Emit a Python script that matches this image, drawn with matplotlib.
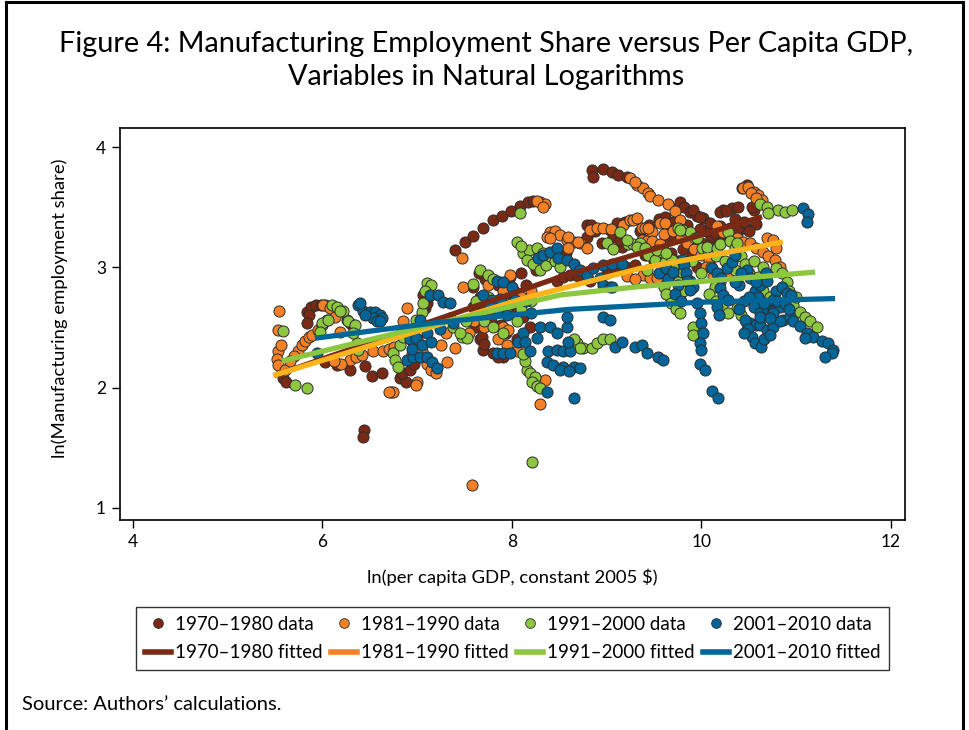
import matplotlib
matplotlib.use("Agg")
import matplotlib.pyplot as plt
from matplotlib.lines import Line2D

plt.rcParams['font.family'] = ['Lato', 'DejaVu Sans']

# ---- scatter data: ln(per capita GDP), ln(manufacturing employment share)
x_7080 = [5.57, 5.58, 5.62, 5.84, 5.88, 5.93, 5.98, 6.03, 5.86, 5.84, 6.26, 6.30,
          6.03, 6.15, 6.29, 6.45, 6.52, 6.63, 6.72, 6.82, 6.88, 6.44, 6.43,
          7.08, 7.10, 7.06, 7.11, 7.10, 6.84, 6.92, 6.97,
          7.40, 7.50, 7.59, 7.69, 7.80, 7.89, 7.99, 8.08, 8.17, 8.22,
          8.84, 8.86, 8.96, 9.06, 9.12, 9.21,
          7.59, 7.66, 7.59, 7.69, 7.80, 7.66, 7.69, 7.80, 7.90, 7.94, 8.01, 8.12,
          8.19, 7.94, 8.05, 7.68, 7.70, 7.85, 7.55, 7.62, 7.75, 7.85, 7.98, 8.10,
          8.25, 7.72, 7.65, 7.78, 7.88, 8.02, 8.15,
          8.47, 8.54, 8.61, 8.70, 8.82, 8.35, 8.42, 8.50, 8.57,
          8.79, 8.79, 8.83, 8.88, 9.03, 9.07, 9.11, 9.16, 9.19, 9.14, 8.95,
          9.00, 9.10, 9.20, 9.30,
          9.40, 9.50, 9.60, 9.70, 9.80, 9.90, 10.00, 10.10, 9.45, 9.65, 9.85, 10.05,
          10.15, 9.55, 9.75, 9.95,
          9.35, 9.45, 9.55, 9.62, 9.70, 9.78, 9.88, 9.98, 10.08, 10.18, 10.28, 10.38,
          10.48, 10.58, 9.50, 9.68, 9.85, 10.05,
          9.74, 9.77, 9.82, 9.88, 9.95, 10.02, 10.09, 10.20, 10.30, 10.39, 10.23, 10.32,
          10.39, 10.55, 10.53, 10.43, 10.48, 10.20, 10.26, 9.91, 9.98, 10.35, 10.45, 10.50]
y_7080 = [2.13, 2.08, 2.05, 2.63, 2.67, 2.69, 2.69, 2.69, 2.60, 2.54, 2.56, 2.53,
          2.21, 2.19, 2.15, 2.18, 2.10, 2.12, 1.96, 2.08, 2.05, 1.65, 1.59,
          2.66, 2.70, 2.77, 2.75, 2.79, 2.12, 2.15, 2.20,
          3.14, 3.21, 3.26, 3.33, 3.39, 3.43, 3.47, 3.51, 3.54, 3.55,
          3.81, 3.75, 3.82, 3.79, 3.77, 3.75,
          2.84, 2.75, 2.67, 2.64, 2.62, 2.40, 2.31, 2.29, 2.25, 2.79, 2.64, 2.59,
          2.50, 2.45, 2.40, 2.42, 2.36, 2.25, 2.55, 2.50, 2.70, 2.85, 2.92, 2.95,
          2.98, 2.90, 2.95, 2.55, 2.52, 2.80, 2.85,
          2.89, 2.92, 2.94, 2.93, 2.89, 3.05, 3.08, 3.10, 3.12,
          3.35, 3.25, 3.35, 3.30, 3.31, 3.25, 3.37, 3.17, 3.38, 3.23, 3.20,
          2.95, 2.98, 3.00, 3.02,
          3.10, 3.05, 3.20, 3.25, 3.15, 3.10, 3.20, 3.25, 3.22, 3.30, 3.35, 3.30,
          3.28, 3.12, 3.05, 3.00,
          3.30, 3.35, 3.40, 3.42, 3.38, 3.30, 3.25, 3.32, 3.18, 3.20, 3.25, 3.28,
          3.32, 3.36, 3.18, 3.12, 3.05, 3.10,
          3.49, 3.54, 3.50, 3.46, 3.43, 3.41, 3.37, 3.34, 3.33, 3.33, 3.48, 3.49,
          3.50, 3.48, 3.50, 3.66, 3.68, 3.46, 3.47, 3.48, 3.42, 3.40, 3.38, 3.30]

x_8190 = [5.54, 5.53, 5.53, 5.52, 5.53, 5.56, 5.60,
          5.74, 5.78, 5.82, 5.86, 5.89, 5.95, 6.00, 5.70, 5.66,
          6.01, 6.08, 6.13, 6.19, 6.05,
          6.29, 6.35, 6.42, 6.53, 6.64, 6.70, 6.76, 6.20, 6.12,
          6.74, 6.70, 7.00, 6.99,
          6.89, 6.85, 7.00, 7.05, 7.10, 7.15, 7.20, 6.95, 7.25, 7.31, 7.40, 7.30, 7.35, 7.48,
          8.30, 8.35, 8.26, 8.33, 7.47,
          9.25, 9.32, 9.38, 9.44, 9.46, 9.54, 9.65, 9.72, 9.77, 9.30,
          10.44, 10.49, 10.55, 10.60, 10.64, 10.52, 10.58,
          8.40, 8.45, 8.51, 8.58, 8.65, 8.72, 8.79, 8.37, 8.40, 8.59, 8.70, 8.59,
          8.82, 8.90, 8.96, 9.05, 9.17, 9.25, 9.28, 9.32, 9.37, 9.40, 9.46, 9.48,
          9.56, 9.62, 9.44,
          9.37, 9.42, 9.48, 9.56,
          9.60, 9.70, 9.78, 9.85, 9.92, 10.00, 10.08,
          10.16, 10.23, 10.30, 10.37, 10.44, 10.51, 10.58, 10.65, 10.70, 10.78, 10.83,
          10.69, 10.79, 10.76,
          9.38, 9.46, 9.53, 9.60, 9.70,
          7.60, 7.70, 7.80, 7.90, 8.00, 8.10, 7.75, 7.85, 7.95, 8.05, 7.55, 8.20, 7.98,
          7.91, 7.96,
          8.35, 8.30, 7.58,
          9.21, 9.30, 10.05, 10.12, 10.20, 10.28]
y_8190 = [2.64, 2.48, 2.30, 2.24, 2.19, 2.35, 2.15,
          2.30, 2.35, 2.39, 2.42, 2.44, 2.48, 2.52, 2.26, 2.22,
          2.69, 2.66, 2.59, 2.46, 2.56,
          2.23, 2.25, 2.27, 2.30, 2.30, 2.32, 2.34, 2.20, 2.22,
          1.96, 1.96, 2.05, 2.02,
          2.66, 2.55, 2.40, 2.30, 2.20, 2.15, 2.12, 2.28, 2.35, 2.21, 2.33, 2.45, 2.58, 2.84,
          3.54, 3.53, 3.55, 3.50, 3.08,
          3.74, 3.68, 3.66, 3.62, 3.59, 3.56, 3.53, 3.47, 3.39, 3.71,
          3.66, 3.67, 3.63, 3.60, 3.56, 3.62, 3.58,
          3.29, 3.30, 3.27, 3.23, 3.21, 3.20, 3.16, 3.25, 3.24, 3.25, 3.21, 3.16,
          3.31, 3.33, 3.33, 3.32, 3.35, 3.39, 3.39, 3.41, 3.33, 3.33, 3.29, 3.29,
          3.37, 3.37, 3.33,
          3.23, 3.22, 3.22, 3.19,
          3.28, 3.30, 3.25, 3.20, 3.15, 3.10, 3.05,
          3.34, 3.29, 3.27, 3.24, 3.21, 3.20, 3.16, 3.13, 3.09, 3.06, 3.00,
          3.24, 3.16, 3.23,
          2.94, 2.91, 2.91, 2.95, 3.00,
          2.55, 2.50, 2.70, 2.80, 2.70, 2.75, 2.85, 2.40, 2.35, 2.30, 2.45, 2.80, 2.94,
          2.50, 2.48,
          2.06, 1.86, 1.19,
          2.93, 2.90, 3.00, 2.92, 2.88, 2.95]

x_9100 = [5.58, 5.71, 5.84,
          6.00, 5.97, 6.06, 6.10, 6.15, 6.22, 6.27, 6.34, 6.38, 6.36, 6.32, 6.18,
          6.74, 6.77, 6.80, 6.82, 6.85, 6.89, 6.99, 7.05, 7.06, 7.10, 7.15, 7.08,
          7.47, 7.53, 7.59, 7.66, 7.75, 7.80, 7.38, 7.45, 7.52,
          8.08, 8.05,
          8.12, 8.18, 8.26, 8.16, 8.22, 8.30, 8.36, 8.40, 8.45, 8.51, 8.10, 8.33,
          7.75, 7.85, 7.95, 8.05, 7.70, 7.80, 7.90, 8.00, 8.10, 7.62, 8.20,
          8.16, 8.19, 8.24, 8.21, 8.26, 8.30, 8.14, 8.12,
          8.21,
          8.69, 8.75, 8.84, 8.90, 8.96, 9.03, 8.65, 8.72,
          9.14, 9.22, 9.28, 9.35, 9.00, 9.07,
          9.21, 9.32, 9.40, 9.44, 9.51, 9.58, 9.61, 9.69, 9.42, 9.53, 9.63,
          9.75, 9.81, 9.88, 9.93, 9.95, 10.01, 10.07, 10.06, 10.15, 10.16, 10.20,
          10.28, 10.30, 10.35, 10.38, 10.42, 10.46, 9.77,
          9.70, 9.80, 9.90, 10.00, 10.10, 10.25, 10.35, 10.50, 10.55, 10.65,
          9.67, 9.72, 9.91, 9.91, 10.14, 9.80, 9.75, 9.60, 9.63, 9.68, 9.73, 9.77,
          10.62, 10.69, 10.81, 10.88, 10.96, 10.70,
          10.79, 10.85, 10.90, 10.97, 11.04, 11.09, 11.15, 11.22, 10.60, 10.65,
          10.72, 10.92, 11.00,
          10.37, 10.42, 10.48, 10.08, 10.15, 10.22, 10.28]
y_9100 = [2.47, 2.02, 2.00,
          2.54, 2.46, 2.56, 2.69, 2.67, 2.64, 2.55, 2.52, 2.31, 2.37, 2.45, 2.64,
          2.29, 2.23, 2.17, 2.35, 2.42, 2.48, 2.56, 2.63, 2.70, 2.87, 2.85, 2.80,
          2.42, 2.41, 2.86, 2.98, 2.94, 2.90, 2.50, 2.45, 2.55,
          3.45, 3.21,
          3.12, 3.14, 3.16, 3.06, 3.03, 2.98, 3.02, 3.09, 3.05, 3.00, 3.18, 3.12,
          2.75, 2.65, 2.62, 2.55, 2.55, 2.50, 2.45, 2.70, 2.65, 2.72, 2.72,
          2.15, 2.12, 2.09, 2.05, 2.01, 2.00, 2.22, 2.28,
          1.38,
          2.37, 2.33, 2.33, 2.37, 2.40, 2.40, 2.40, 2.33,
          3.29, 3.19, 3.19, 3.20, 3.20, 3.15,
          3.23, 3.17, 3.16, 3.10, 3.06, 3.13, 3.04, 3.06, 2.98, 3.14, 3.12,
          3.33, 3.31, 3.29, 3.24, 3.24, 3.16, 3.14, 3.17, 3.09, 3.16, 3.19,
          3.29, 3.22, 3.16, 3.20, 3.09, 3.03, 3.31,
          3.00, 2.95, 3.05, 2.95, 3.00, 3.05, 2.98, 2.95, 3.05, 3.00,
          2.75, 2.72, 2.50, 2.44, 2.84, 2.80, 2.88, 2.84, 2.78, 2.70, 2.65, 2.62,
          3.53, 3.50, 3.48, 3.46, 3.48, 3.45,
          2.99, 2.95, 2.88, 2.69, 2.63, 2.59, 2.55, 2.50, 2.92, 2.80,
          2.75, 2.80, 2.75,
          2.66, 2.60, 2.53, 2.78, 2.72, 2.68, 2.62]

x_0110 = [5.94,
          6.37, 6.43, 6.50, 6.55, 6.61, 6.63, 6.53, 6.45, 6.58, 6.61, 6.40,
          6.89, 6.96, 7.03, 7.10, 7.16, 7.21, 6.92, 6.99, 7.03, 7.10, 7.24, 7.38,
          7.13, 7.22, 7.27, 7.35, 7.05, 7.15, 6.95,
          7.84, 7.91, 8.00, 7.69, 7.79, 7.89, 8.03, 7.77, 7.85, 7.95, 7.87, 8.15, 8.20,
          7.84, 7.91, 7.98, 8.06, 8.12, 8.14, 8.26, 8.30, 8.40, 8.47, 8.19, 8.38,
          8.47, 8.54, 8.61, 8.59, 8.58,
          8.37, 8.43, 8.54, 8.65, 8.72, 8.65, 8.37,
          8.27, 8.33, 8.40, 8.47, 8.49, 8.58, 8.65, 8.72, 8.79, 8.86, 8.96, 9.06,
          9.16, 8.93, 8.96, 9.03, 9.06,
          8.96, 9.03, 8.58, 8.51, 8.60,
          9.09, 9.16, 9.30, 9.37, 9.42, 9.54, 9.59,
          9.55, 9.65, 9.75, 9.72, 9.78,
          9.63, 9.70, 9.79, 9.82, 9.84, 9.88, 9.91, 9.85, 9.88, 9.95, 9.98, 10.00,
          10.02, 9.98, 10.00, 9.98, 10.04, 10.11, 10.17,
          10.11, 10.16, 10.21, 10.27, 10.32, 10.35, 10.20, 10.23, 10.28, 10.16, 10.18,
          10.48, 10.51, 10.56, 10.62, 10.69, 10.79, 10.85, 10.90, 10.95, 10.55, 10.62,
          10.69, 10.76, 10.83, 10.86, 10.93, 10.51, 10.58, 10.46, 10.49, 10.53, 10.56,
          10.63, 10.62, 10.69, 10.76, 10.83, 10.62, 10.76, 10.45, 10.60, 10.75, 10.40,
          10.40, 10.45, 10.50, 10.66, 10.72, 10.80, 10.88, 10.92, 10.66, 10.72,
          10.58, 10.68, 10.35, 10.42,
          10.97, 11.04, 11.11, 11.18, 11.27, 11.34, 11.39, 11.38, 11.30, 11.09,
          11.07, 11.12, 11.11]
y_0110 = [2.29,
          2.69, 2.64, 2.63, 2.63, 2.60, 2.58, 2.58, 2.60, 2.55, 2.55, 2.70,
          2.23, 2.25, 2.25, 2.25, 2.21, 2.16, 2.40, 2.41, 2.56, 2.45, 2.49, 2.54,
          2.77, 2.77, 2.71, 2.70, 2.35, 2.38, 2.32,
          2.89, 2.88, 2.84, 2.77, 2.73, 2.70, 2.73, 2.67, 2.65, 2.60, 2.74, 2.72, 2.62,
          2.29, 2.29, 2.29, 2.38, 2.45, 2.38, 2.41, 2.50, 2.50, 2.45, 2.30, 2.30,
          2.31, 2.30, 2.30, 2.38, 2.50,
          2.21, 2.19, 2.17, 2.17, 2.16, 1.91, 1.96,
          3.08, 3.10, 3.13, 3.16, 3.08, 3.06, 3.03, 2.98, 2.94, 2.99, 3.02, 3.03,
          3.03, 2.91, 2.85, 2.84, 2.84,
          2.59, 2.56, 2.59, 2.15, 2.14,
          2.34, 2.38, 2.34, 2.35, 2.29, 2.25, 2.23,
          2.95, 2.90, 2.85, 2.78, 2.72,
          2.99, 2.96, 3.06, 3.02, 2.95, 2.89, 2.84, 2.89, 2.81, 2.70, 2.62, 2.54,
          2.45, 2.37, 2.31, 2.20, 2.15, 1.97, 1.91,
          2.99, 2.95, 2.91, 2.99, 3.04, 3.10, 2.83, 2.77, 2.73, 2.67, 2.60,
          2.98, 2.91, 2.80, 2.85, 2.89, 2.80, 2.84, 2.79, 2.77, 2.67, 2.62,
          2.66, 2.64, 2.67, 2.56, 2.59, 2.54, 2.52, 2.56, 2.49, 2.42, 2.37,
          2.34, 2.52, 2.48, 2.50, 2.55, 2.59, 2.62, 2.72, 2.75, 2.73, 2.85,
          2.65, 2.45, 2.75, 2.70, 2.58, 2.72, 2.70, 2.65, 2.40, 2.44,
          2.88, 2.95, 2.88, 2.95,
          2.55, 2.51, 2.45, 2.42, 2.39, 2.37, 2.31, 2.29, 2.25, 2.41,
          3.49, 3.44, 3.38]

# ---- fitted curves
fx_7080 = [5.49, 8.51, 10.64]
fy_7080 = [2.10, 2.92, 3.42]
fx_8190 = [5.48, 8.16, 9.35, 10.86]
fy_8190 = [2.10, 2.75, 2.99, 3.21]
fx_9100 = [5.57, 7.03, 8.51, 9.35, 11.20]
fy_9100 = [2.22, 2.50, 2.77, 2.84, 2.96]
fx_0110 = [5.92, 7.20, 8.60, 10.00, 11.41]
fy_0110 = [2.41, 2.54, 2.65, 2.71, 2.74]

periods = ['1970\u20131980', '1981\u20131990', '1991\u20132000', '2001\u20132010']
dot_colors = ['#7a2914', '#f58025', '#8dc63f', '#00669a']
fit_colors = ['#7a2914', '#fbb41c', '#8dc63f', '#00669a']
legend_fit_colors = ['#7a2914', '#f58025', '#8dc63f', '#00669a']

scatter_sets = [(x_7080, y_7080), (x_8190, y_8190), (x_9100, y_9100), (x_0110, y_0110)]
fit_sets = [(fx_7080, fy_7080), (fx_8190, fy_8190), (fx_9100, fy_9100), (fx_0110, fy_0110)]

W, H = 969, 730
fig = plt.figure(figsize=(W / 100, H / 100), dpi=100)

# outer frame (left, top, right)
for xs, ys in [([6 / W, 6 / W], [0, 1 - 2 / H]), ([6 / W, 963 / W], [1 - 2 / H, 1 - 2 / H]),
               ([963 / W, 963 / W], [0, 1 - 2 / H])]:
    fig.add_artist(Line2D(xs, ys, color='black', lw=2.2, transform=fig.transFigure))

fig.text(486 / W, 1 - 44 / H, 'Figure 4: Manufacturing Employment Share versus Per Capita GDP,',
         ha='center', va='center', fontsize=20.8)
fig.text(486 / W, 1 - 77 / H, 'Variables in Natural Logarithms',
         ha='center', va='center', fontsize=20.8)

ax = fig.add_axes([120 / W, 1 - 520 / H, 785 / W, 392 / H])

for (xs, ys), c in zip(scatter_sets, dot_colors):
    ax.scatter(xs, ys, s=64, c=c, edgecolors='#2e2e2e', linewidths=0.7, zorder=2)

for (xs, ys), c in zip(fit_sets, fit_colors):
    ax.plot(xs, ys, color=c, lw=3.8, solid_capstyle='butt', zorder=3)

ax.set_xlim(3.863, 12.148)
ax.set_ylim(0.899, 4.158)
ax.set_xticks([4, 6, 8, 10, 12])
ax.set_yticks([1, 2, 3, 4])
ax.tick_params(axis='both', direction='out', length=6, width=1, labelsize=12.5, pad=4)
for sp in ax.spines.values():
    sp.set_linewidth(1.2)
    sp.set_color('black')

fig.text(512 / W, 1 - 577 / H, 'ln(per capita GDP, constant 2005 $)',
         ha='center', va='center', fontsize=13.3)
fig.text(60 / W, 1 - 308 / H, 'ln(Manufacturing employment share)',
         ha='center', va='center', rotation=90, fontsize=13.3)

# legend: dots on the first row, fitted lines on the second
handles = []
labels = []
for p, c in zip(periods, dot_colors):
    handles.append(Line2D([], [], ls='none', marker='o', ms=7, mfc=c, mec='#2e2e2e', mew=0.6))
    labels.append(p + ' data')
for p, c in zip(periods, legend_fit_colors):
    handles.append(Line2D([], [], color=c, lw=4))
    labels.append(p + ' fitted')
# reorder so ncol=4 fills row by row
order = [0, 4, 1, 5, 2, 6, 3, 7]
leg = fig.legend([handles[i] for i in order], [labels[i] for i in order],
                 ncol=4, loc='center', bbox_to_anchor=(127 / W, 1 - 673 / H, 771 / W, 69 / H),
                 mode='expand', fontsize=13.5, frameon=True, fancybox=False,
                 edgecolor='black', handlelength=1.4, handletextpad=0.2,
                 borderpad=0.45, labelspacing=0.62, columnspacing=1.0)
leg.get_frame().set_linewidth(1.0)

fig.text(22 / W, 1 - 705 / H, 'Source: Authors\u2019 calculations.',
         ha='left', va='center', fontsize=14.5)

fig.savefig('out.png', dpi=100)
